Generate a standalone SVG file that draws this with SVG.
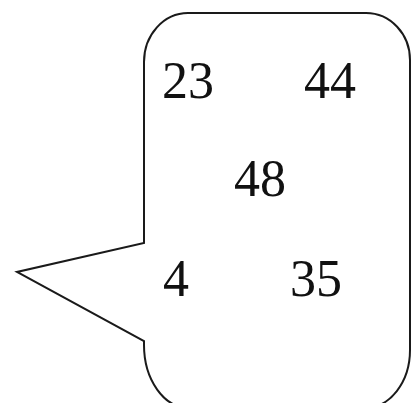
<svg xmlns="http://www.w3.org/2000/svg" width="415" height="403" viewBox="0 0 415 403">
<style>
.bubble{fill:#fff;stroke:#1a1a1a;stroke-width:2;stroke-linejoin:miter}
.n{font-family:"Liberation Serif","Times New Roman",serif;font-size:52px;fill:#111;text-anchor:middle}
</style>
<rect width="415" height="403" fill="#fff"/>
<g id="bubble">
<path class="bubble" d="M 188 13 H 366 A 44 47 0 0 1 410 60 V 350 A 45 58 0 0 1 365 408 H 189 A 45 63 0 0 1 144 345 V 341 L 17 272 L 144 243 V 62 A 44 49 0 0 1 188 13 Z"/>
</g>
<g id="n23"><text class="n" x="188" y="98">23</text></g>
<g id="n44"><text class="n" x="330" y="98">44</text></g>
<g id="n48"><text class="n" x="260" y="196">48</text></g>
<g id="n4"><text class="n" x="176" y="296">4</text></g>
<g id="n35"><text class="n" x="316" y="296">35</text></g>
<g id="connectors"></g>
</svg>
